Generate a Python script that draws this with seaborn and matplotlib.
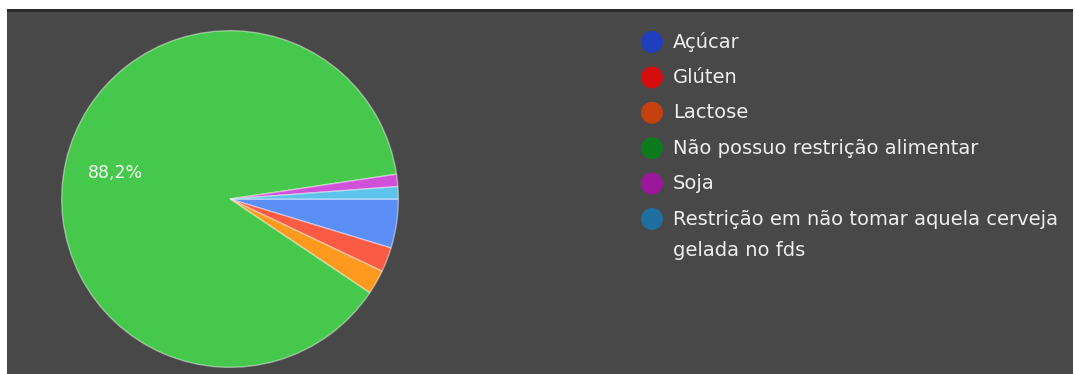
import matplotlib
matplotlib.use("Agg")
import matplotlib.pyplot as plt
from matplotlib.patches import Rectangle
import seaborn as sns

# Survey answers: dietary restrictions
categories = [
    "Açúcar",
    "Glúten",
    "Lactose",
    "Não possuo restrição alimentar",
    "Soja",
    "Restrição em não tomar aquela cerveja\ngelada no fds",
]
counts = [4, 2, 2, 75, 1, 1]

wedge_colors = ["#5b8ef7", "#fb5b45", "#ff9a1f", "#45c84b", "#d150d8", "#5cc3ea"]
legend_colors = ["#1f3fbf", "#d40c0c", "#c4400f", "#0b7a1c", "#9c169c", "#1f70a0"]

sns.set_theme(style="white")
plt.rcParams["font.family"] = ["DejaVu Sans"]

W, H = 1075, 374
fig = plt.figure(figsize=(W / 100, H / 100), dpi=100, facecolor="white")

# Full-figure overlay in pixel coordinates for the panel and legend
bg = fig.add_axes([0, 0, 1, 1])
bg.set_xlim(0, W)
bg.set_ylim(H, 0)
bg.axis("off")
bg.add_patch(Rectangle((7, 9), W - 9, H - 9, facecolor="#484848", edgecolor="none", zorder=0))
bg.add_patch(Rectangle((7, 9), W - 9, 3, facecolor="#2a2a2a", edgecolor="none", zorder=1))

# Pie
cx, cy, r = 230, 199, 170
ax = fig.add_axes([(cx - r) / W, (H - cy - r) / H, 2 * r / W, 2 * r / H])
ax.set_facecolor("none")


def pct_label(p):
    return f"{p:.1f}".replace(".", ",") + "%" if p > 10 else ""


wedges, texts, autotexts = ax.pie(
    counts,
    colors=wedge_colors,
    startangle=0,
    counterclock=False,
    autopct=pct_label,
    pctdistance=0.7,
    radius=1,
    wedgeprops=dict(edgecolor=(1, 1, 1, 0.45), linewidth=1.0),
    textprops=dict(color="#f4fff4", fontsize=12.5),
)
ax.set_xlim(-1.01, 1.01)
ax.set_ylim(-1.01, 1.01)
ax.set_aspect("equal")
ax.axis("off")

# Legend drawn in pixel coordinates
y0, dy = 42, 35.4
for i, (lab, col) in enumerate(zip(categories, legend_colors)):
    y = y0 + i * dy
    bg.scatter([652], [y], s=250, color=col, edgecolors="none", zorder=3)
    for k, line in enumerate(lab.split("\n")):
        bg.text(673, y + k * 31, line, color="#eeeeee", fontsize=14,
                va="center", ha="left", zorder=3)

fig.savefig("out.png", dpi=100, facecolor="white")
